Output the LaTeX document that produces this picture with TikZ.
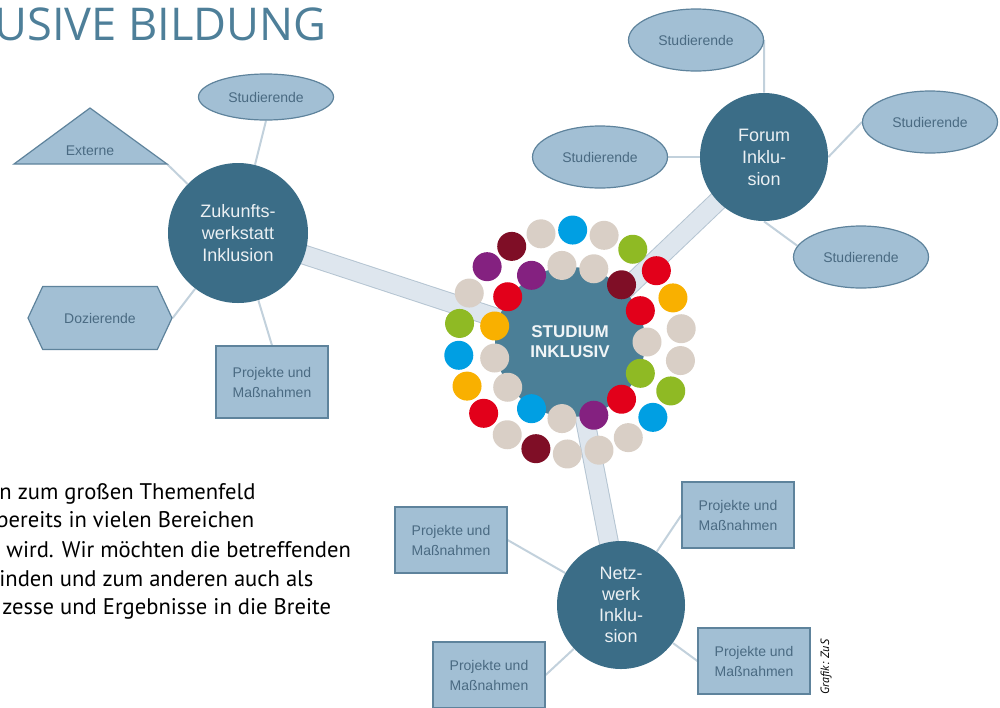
\documentclass[tikz,border=0pt]{standalone}
\usepackage{fontspec}
\setmainfont{Liberation Sans}
\newfontfamily\titlefont{Open Sans}
\newfontfamily\bodyfont{PT Sans}
\usetikzlibrary{shapes.geometric,shapes.symbols}
\pgfdeclarelayer{background}
\pgfsetlayers{background,main}
\definecolor{hubblue}{HTML}{3B6D87}
\definecolor{corefill}{HTML}{4B7F97}
\definecolor{leaffill}{HTML}{A2BFD4}
\definecolor{leafline}{HTML}{5E839C}
\definecolor{leaftext}{HTML}{4A6A82}
\definecolor{barfill}{HTML}{DEE6EE}
\definecolor{barline}{HTML}{B5C5D2}
\definecolor{twigcol}{HTML}{C2D1DC}
\definecolor{titleblue}{HTML}{4E7F99}
\definecolor{dotbeige}{HTML}{D9CFC6}
\definecolor{dotblue}{HTML}{009FE3}
\definecolor{dotgreen}{HTML}{8FBA24}
\definecolor{dotred}{HTML}{E2001A}
\definecolor{dotorange}{HTML}{F9B000}
\definecolor{dotpurple}{HTML}{842180}
\definecolor{dotwine}{HTML}{7F0E26}
\tikzset{
  hub/.style={circle, fill=hubblue, text=white!90!hubblue, inner sep=0pt, align=center,
    font=\fontsize{9}{11}\selectfont},
  leaf/.style={fill=leaffill, draw=leafline, line width=0.6pt, text=leaftext, inner sep=0pt,
    align=center, font=\fontsize{7}{10}\selectfont},
  stud/.style={leaf, ellipse, minimum width=67.5pt, minimum height=31pt},
  projbox/.style={leaf, rectangle, minimum width=56pt, minimum height=33pt},
  bar/.style={draw=barline, line width=0.5pt, double=barfill, double distance=9pt},
  twig/.style={draw=twigcol, line width=1pt},
  dot/.style={circle, inner sep=0pt, minimum size=14.5pt},
  bodyline/.style={anchor=base west, inner sep=0pt, font=\bodyfont\fontsize{11.3}{13}\selectfont},
}
\begin{document}
\begin{tikzpicture}[x=0.5pt,y=-0.5pt]
\useasboundingbox (0,0) rectangle (1000,707);
\clip (0,0) rectangle (1000,707);

% title and running text
\node[anchor=base west, inner sep=0pt, text=titleblue, font=\titlefont\fontsize{22.6}{23}\selectfont]
  (title) at (-6,40) {USIVE BILDUNG};
\node[bodyline] (lineA) at (-1,499) {n zum großen Themenfeld};
\node[bodyline] (lineB) at (-4,527) {bereits in vielen Bereichen};
\node[bodyline] (lineC) at (6,557) {wird. Wir möchten die betreffenden};
\node[bodyline] (lineD) at (-1,586) {inden und zum anderen auch als};
\node[bodyline] (lineE) at (2,614) {zesse und Ergebnisse in die Breite};

% centre
\node[circle, fill=corefill, minimum size=75pt, inner sep=0pt, align=center,
  text=white!92!corefill, font=\bfseries\fontsize{8.5}{10}\selectfont]
  (studium) at (570,342) {STUDIUM\\INKLUSIV};
\begin{scope}[shift={(570,342)}]
  \foreach \c [count=\i from 0] in {dotbeige,dotblue,dotbeige,dotgreen,dotred,dotorange,
      dotbeige,dotbeige,dotgreen,dotblue,dotbeige,dotbeige,dotbeige,dotwine,dotbeige,
      dotred,dotorange,dotblue,dotgreen,dotbeige,dotpurple,dotwine}
    \node[dot, fill=\c] (outer\i) at (-105+\i*16.3636:112) {};
  \foreach \c [count=\i from 0] in {dotpurple,dotbeige,dotbeige,dotwine,dotred,dotbeige,
      dotgreen,dotred,dotpurple,dotbeige,dotblue,dotbeige,dotbeige,dotorange,dotred}
    \node[dot, fill=\c] (inner\i) at (-120+\i*24:77) {};
\end{scope}

% Zukunftswerkstatt
\node[hub, minimum size=70pt] (zuk) at (238,233) {Zukunfts-\\werkstatt\\Inklusion};
\node[stud, minimum height=23pt] (zstud) at (266,97) {Studierende};
\coordinate (extL) at (14,164);
\coordinate (extT) at (90,108);
\coordinate (extR) at (167,164);
\draw[leaf] (extL) -- (extT) -- (extR) -- cycle;
\node[text=leaftext, font=\fontsize{7}{10}\selectfont] (ext) at (90,151) {Externe};
\node[leaf, signal, signal to=east and west, signal pointer angle=130,
  minimum width=72pt, minimum height=31.5pt] (doz) at (100,318) {Dozierende};
\node[projbox, minimum height=36pt] (zproj) at (272,382) {Projekte und\\Maßnahmen};

% Forum
\node[hub, minimum size=64pt] (forum) at (764,157) {Forum\\Inklu-\\sion};
\node[stud] (fstudtop) at (696,40) {Studierende};
\node[stud] (fstudleft) at (600,157) {Studierende};
\node[stud] (fstudright) at (930,122) {Studierende};
\node[stud] (fstudbottom) at (861,257) {Studierende};

% Netzwerk
\node[hub, minimum size=64pt, font=\fontsize{9}{10.5}\selectfont] (netz) at (621,605)
  {Netz-\\werk\\Inklu-\\sion};
\node[projbox] (nprojtl) at (451,540) {Projekte und\\Maßnahmen};
\node[projbox] (nprojtr) at (738,515) {Projekte und\\Maßnahmen};
\node[projbox] (nprojbl) at (489,675) {Projekte und\\Maßnahmen};
\node[projbox] (nprojbr) at (754,661) {Projekte und\\Maßnahmen};

\node[rotate=90, inner sep=0pt, font=\bodyfont\itshape\fontsize{6}{6}\selectfont]
  (credit) at (826,667) {Grafik: ZuS};

\begin{pgfonlayer}{background}
  \draw[bar] (studium.center) -- (zuk.center);
  \draw[bar] (studium.center) -- (forum.center);
  \draw[bar] (studium.center) -- (netz.center);
  \draw[twig] (zuk) -- (zstud.south);
  \draw[twig] (zuk) -- (extR);
  \draw[twig] (zuk) -- (doz.east);
  \draw[twig] (zuk) -- (zproj.north);
  \draw[twig] (forum) -- (fstudtop.east);
  \draw[twig] (forum) -- (fstudleft);
  \draw[twig] (forum.east) -- (fstudright.west);
  \draw[twig] (forum.south) -- (fstudbottom.170);
  \draw[twig] (netz) -- (nprojtl.east);
  \draw[twig] (netz) -- (nprojtr.west);
  \draw[twig] (netz) -- (nprojbl.east);
  \draw[twig] (netz) -- (nprojbr.west);
\end{pgfonlayer}
\end{tikzpicture}
\end{document}
